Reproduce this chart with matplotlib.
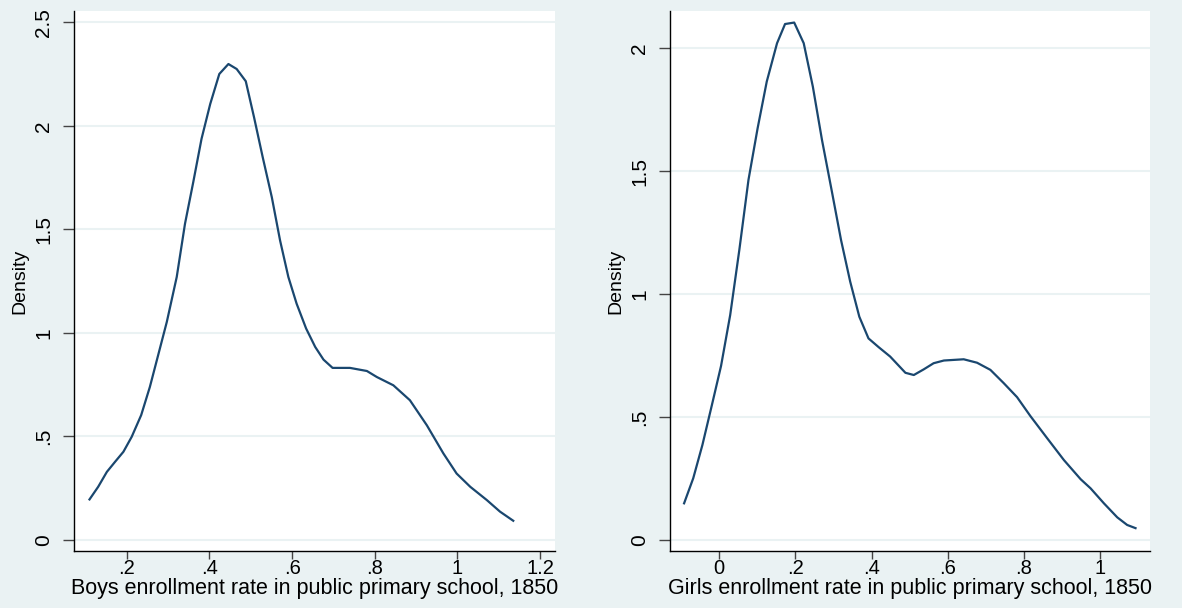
import matplotlib.pyplot as plt

plt.rcParams['font.family'] = ['Liberation Sans', 'DejaVu Sans']

# kernel density, boys enrollment rate
boys_x = [0.110, 0.131, 0.152, 0.172, 0.192, 0.212, 0.235, 0.256, 0.276, 0.297,
          0.321, 0.341, 0.361, 0.381, 0.402, 0.424, 0.446, 0.466, 0.488, 0.508,
          0.529, 0.551, 0.571, 0.591, 0.611, 0.634, 0.656, 0.676, 0.698, 0.740,
          0.781, 0.805, 0.845, 0.885, 0.926, 0.966, 0.998, 1.031, 1.071, 1.103, 1.135]
boys_y = [0.196, 0.257, 0.329, 0.378, 0.426, 0.498, 0.603, 0.739, 0.892, 1.053,
          1.270, 1.527, 1.728, 1.937, 2.105, 2.250, 2.298, 2.274, 2.215, 2.041,
          1.848, 1.655, 1.446, 1.270, 1.141, 1.021, 0.932, 0.871, 0.831, 0.831,
          0.816, 0.787, 0.747, 0.675, 0.554, 0.418, 0.321, 0.257, 0.193, 0.137, 0.093]

# kernel density, girls enrollment rate
girls_x = [-0.092, -0.068, -0.044, -0.019, 0.005, 0.029, 0.053, 0.077, 0.101, 0.125,
           0.152, 0.173, 0.197, 0.222, 0.246, 0.270, 0.296, 0.320, 0.344, 0.368,
           0.392, 0.419, 0.449, 0.489, 0.511, 0.537, 0.563, 0.590, 0.642, 0.677,
           0.712, 0.747, 0.782, 0.817, 0.861, 0.905, 0.949, 0.975, 1.010, 1.045,
           1.071, 1.093]
girls_y = [0.149, 0.251, 0.386, 0.549, 0.708, 0.915, 1.180, 1.465, 1.675, 1.865,
           2.021, 2.099, 2.105, 2.021, 1.844, 1.627, 1.417, 1.220, 1.051, 0.908,
           0.820, 0.784, 0.746, 0.680, 0.671, 0.694, 0.719, 0.730, 0.735, 0.721,
           0.692, 0.638, 0.581, 0.504, 0.414, 0.325, 0.247, 0.210, 0.149, 0.092,
           0.061, 0.048]

boys_xticks = [0.2, 0.4, 0.6, 0.8, 1.0, 1.2]
boys_xlabels = ['.2', '.4', '.6', '.8', '1', '1.2']
boys_yticks = [0, 0.5, 1, 1.5, 2, 2.5]
boys_ylabels = ['0', '.5', '1', '1.5', '2', '2.5']

girls_xticks = [0, 0.2, 0.4, 0.6, 0.8, 1.0]
girls_xlabels = ['0', '.2', '.4', '.6', '.8', '1']
girls_yticks = [0, 0.5, 1, 1.5, 2]
girls_ylabels = ['0', '.5', '1', '1.5', '2']

bg = '#eaf2f3'
navy = '#1a476f'

fig = plt.figure(figsize=(11.82, 6.08), dpi=100, facecolor=bg)
ax1 = fig.add_axes([74 / 1182, 57 / 608, 481 / 1182, 540 / 608])
ax2 = fig.add_axes([670 / 1182, 57 / 608, 480 / 1182, 540 / 608])


def style(ax, x, y, xt, xl, yt, yl, xlim, ylim, xlabel):
    ax.set_facecolor('white')
    for yv in yt:
        ax.axhline(yv, color=bg, lw=1.5, zorder=1)
    ax.plot(x, y, color=navy, lw=1.6, zorder=3)
    ax.set_xlim(*xlim)
    ax.set_ylim(*ylim)
    ax.set_xticks(xt)
    ax.set_xticklabels(xl)
    ax.set_yticks(yt)
    ax.set_yticklabels(yl, rotation=90, va='center')
    ax.spines['top'].set_visible(False)
    ax.spines['right'].set_visible(False)
    ax.spines['left'].set_linewidth(1.0)
    ax.spines['bottom'].set_linewidth(1.0)
    ax.tick_params(axis='x', length=6, width=1.0, color='#444444', labelsize=14.5, pad=0)
    ax.tick_params(axis='y', length=8, width=1.0, color='#444444', labelsize=15, pad=7)
    ax.set_xlabel(xlabel, fontsize=15.5, labelpad=0)
    ax.set_ylabel('Density', fontsize=14, labelpad=4)


style(ax1, boys_x, boys_y, boys_xticks, boys_xlabels, boys_yticks, boys_ylabels,
      (0.0725, 1.236), (-0.053, 2.554),
      'Boys enrollment rate in public primary school, 1850')
style(ax2, girls_x, girls_y, girls_xticks, girls_xlabels, girls_yticks, girls_ylabels,
      (-0.129, 1.131), (-0.045, 2.152),
      'Girls enrollment rate in public primary school, 1850')

fig.savefig('out.png', dpi=100, facecolor=bg)
